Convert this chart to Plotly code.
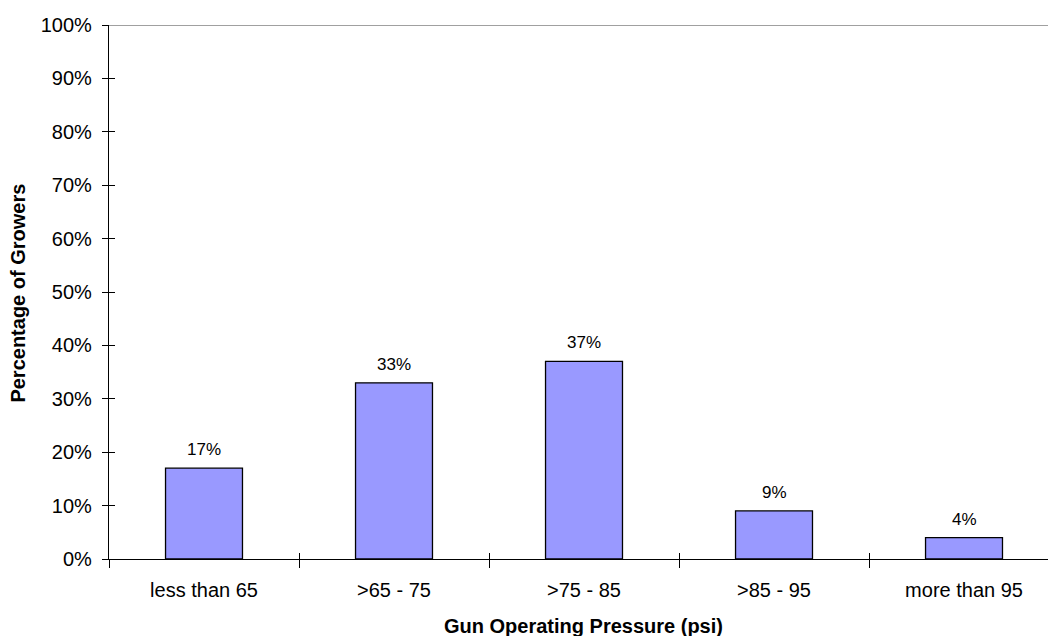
import plotly.graph_objects as go

# Survey results: operating pressure of growers' guns
categories = ["less than 65", ">65 - 75", ">75 - 85", ">85 - 95", "more than 95"]
percent_growers = [17, 33, 37, 9, 4]
y_ticks = list(range(0, 101, 10))
y_tick_text = [f"{v}%" for v in y_ticks]

FONT = "Liberation Sans, Arial, sans-serif"
X_RANGE = [-0.5, 4.442]

fig = go.Figure()

fig.add_trace(go.Bar(
    x=categories,
    y=percent_growers,
    width=0.405,
    marker=dict(color="#9999FF", line=dict(color="#000000", width=1.3)),
    hoverinfo="x+y",
))

# empty trace that keeps the overlay axes (inner half of the crossing ticks) alive
fig.add_trace(go.Scatter(x=[], y=[], xaxis="x2", yaxis="y2", showlegend=False))

# value labels above each bar
for cat, val in zip(categories, percent_growers):
    fig.add_annotation(
        x=cat, y=val, xref="x", yref="y",
        text=f"{val}%", showarrow=False,
        yanchor="bottom", yshift=7,
        font=dict(family=FONT, size=17, color="#000000"),
    )

# axis titles
fig.add_annotation(
    xref="paper", yref="paper", x=0.5048, y=-0.1255,
    text="<b>Gun Operating Pressure (psi)</b>", showarrow=False,
    xanchor="center", yanchor="middle",
    font=dict(family=FONT, size=20, color="#000000"),
)
fig.add_annotation(
    xref="paper", yref="paper", x=-0.0969, y=0.497,
    text="<b>Percentage of Growers</b>", showarrow=False, textangle=-90,
    xanchor="center", yanchor="middle",
    font=dict(family=FONT, size=20, color="#000000"),
)

# top border of the plot area at 100%
fig.add_shape(type="line", xref="paper", yref="y", x0=0, x1=1, y0=100, y1=100,
              line=dict(color="#808080", width=1.3))

fig.update_layout(
    width=1048, height=636,
    margin=dict(l=109, r=0, t=25, b=77),
    paper_bgcolor="#FFFFFF", plot_bgcolor="#FFFFFF",
    showlegend=False,
    bargap=0.6,
    font=dict(family=FONT, size=20, color="#000000"),
    xaxis=dict(
        type="category", range=X_RANGE, tickson="boundaries",
        ticks="outside", ticklen=8, tickwidth=1, tickcolor="#000000",
        showline=True, linecolor="#000000", linewidth=1.3,
        showgrid=False, zeroline=False,
        tickfont=dict(family=FONT, size=20, color="#000000"),
        ticklabelstandoff=13,
    ),
    yaxis=dict(
        range=[0, 100], tickvals=y_ticks, ticktext=y_tick_text,
        ticks="outside", ticklen=6, tickwidth=1, tickcolor="#000000",
        showline=True, linecolor="#000000", linewidth=1.3,
        showgrid=False, zeroline=False,
        tickfont=dict(family=FONT, size=20, color="#000000"),
        ticklabelstandoff=6,
    ),
    xaxis2=dict(
        overlaying="x", range=X_RANGE, tickvals=[-0.5, 0.5, 1.5, 2.5, 3.5],
        ticks="inside", ticklen=6, tickwidth=1, tickcolor="#000000",
        showticklabels=False, showline=False, showgrid=False, zeroline=False,
    ),
    yaxis2=dict(
        overlaying="y", range=[0, 100], tickvals=y_ticks,
        ticks="inside", ticklen=6, tickwidth=1, tickcolor="#000000",
        showticklabels=False, showline=False, showgrid=False, zeroline=False,
    ),
)

fig.write_html("out.html")
